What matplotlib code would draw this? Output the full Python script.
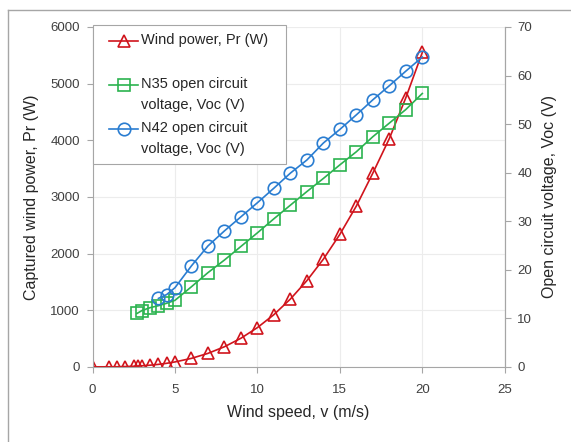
import matplotlib.pyplot as plt
from matplotlib.lines import Line2D
from matplotlib.legend_handler import HandlerLine2D

plt.rcParams['font.family'] = ['Liberation Sans', 'DejaVu Sans']

# wind power (left axis)
v_pr = [0, 1, 1.5, 2, 2.5, 2.75, 3, 3.5, 4, 4.5, 5, 6, 7, 8, 9, 10,
        11, 12, 13, 14, 15, 16, 17, 18, 19, 20]
pr = [0, 1, 2, 6, 11, 14, 19, 30, 44, 63, 87, 150, 238, 355, 505, 693,
      922, 1197, 1522, 1901, 2339, 2839, 3420, 4030, 4750, 5550]

# N35 open circuit voltage (right axis)
v_n35 = [2.7, 3, 3.5, 4, 4.5, 5, 6, 7, 8, 9, 10, 11, 12, 13, 14, 15, 16, 17, 18, 19, 20]
voc_n35 = [11.0, 11.6, 12.2, 12.6, 13.1, 13.7, 16.5, 19.4, 22.0, 24.8, 27.6,
           30.5, 33.3, 36.1, 38.8, 41.6, 44.3, 47.4, 50.2, 53.0, 56.3]

# N42 open circuit voltage (right axis)
v_n42 = [4, 4.5, 5, 6, 7, 8, 9, 10, 11, 12, 13, 14, 15, 16, 17, 18, 19, 20]
voc_n42 = [14.1, 14.9, 16.3, 20.8, 24.9, 28.0, 30.9, 33.8, 36.8, 39.9,
           42.6, 46.1, 48.9, 51.9, 55.0, 57.9, 60.9, 63.8]

red = '#d0141c'
green = '#2bb34f'
blue = '#2a7dd1'
grey = '#a6a6a6'
txt = '#262626'
ticktxt = '#404040'


class FirstLineHandler(HandlerLine2D):
    # put the legend symbol level with the first line of a two-line label
    def __init__(self, shift, **kw):
        super().__init__(**kw)
        self.shift = shift

    def create_artists(self, legend, orig_handle, xdescent, ydescent, width, height,
                       fontsize, trans):
        arts = super().create_artists(legend, orig_handle, xdescent, ydescent, width,
                                      height, fontsize, trans)
        for a in arts:
            a.set_ydata([y + self.shift * fontsize for y in a.get_ydata()])
        return arts


fig = plt.figure(figsize=(5.71, 4.42), dpi=100)
# chart-area border (only top and left are inside the picture)
ytop = 1 - 9.5 / 442
xleft = 7.5 / 571
fig.add_artist(Line2D([xleft, 1.0], [ytop, ytop], transform=fig.transFigure, color=grey, lw=1.0))
fig.add_artist(Line2D([xleft, xleft], [0, ytop], transform=fig.transFigure, color=grey, lw=1.0))

ax = fig.add_axes([0.162, 0.170, 0.722, 0.769])
ax2 = ax.twinx()

l1, = ax.plot(v_pr, pr, color=red, lw=1.2, marker='^', ms=9, mfc='none', mew=1.2,
              label='Wind power, Pr (W)\n ')
l2, = ax2.plot(v_n35, voc_n35, color=green, lw=1.2, marker='s', ms=8.5, mfc='none', mew=1.2,
               label='N35 open circuit\nvoltage, Voc (V)')
l3, = ax2.plot(v_n42, voc_n42, color=blue, lw=1.2, marker='o', ms=9, mfc='none', mew=1.2,
               label='N42 open circuit\nvoltage, Voc (V)')

ax.set_xlim(0, 25)
ax.set_ylim(0, 6000)
ax2.set_ylim(0, 70)
ax.set_xticks(range(0, 26, 5))
ax.set_yticks(range(0, 6001, 1000))
ax2.set_yticks(range(0, 71, 10))

ax.grid(True, color='#ececec', lw=0.8)
ax.set_axisbelow(True)
for a in (ax, ax2):
    a.spines['top'].set_visible(False)
    for s in ('left', 'right', 'bottom'):
        a.spines[s].set_color(grey)
    a.tick_params(colors=grey, labelcolor=ticktxt, labelsize=9.5, length=4, width=0.8, pad=5)
ax.tick_params(axis='x', pad=8)
ax2.spines['left'].set_visible(False)
ax2.spines['bottom'].set_visible(False)

ax.set_xlabel('Wind speed, v (m/s)', fontsize=11.5, color=txt, labelpad=7)
ax.set_ylabel('Captured wind power, Pr (W)', fontsize=11.5, color=txt, labelpad=8)
ax2.set_ylabel('Open circuit voltage, Voc (V)', fontsize=11.5, color=txt, labelpad=7)

hmap = {l: FirstLineHandler(0.66, xpad=0.6) for l in (l1, l2, l3)}
leg = ax2.legend(handles=[l1, l2, l3], loc='upper left', bbox_to_anchor=(0, 0.3, 0.47, 0.706),
                 mode='expand', borderaxespad=0, fontsize=10.5, handlelength=2.6,
                 handletextpad=0.2, borderpad=0.55, labelspacing=0.65, fancybox=False,
                 framealpha=1, edgecolor=grey, handler_map=hmap)
for t in leg.get_texts():
    t.set_color(txt)
    t.set_linespacing(1.6)
leg.get_frame().set_linewidth(0.8)

fig.savefig('out.png', dpi=100)
